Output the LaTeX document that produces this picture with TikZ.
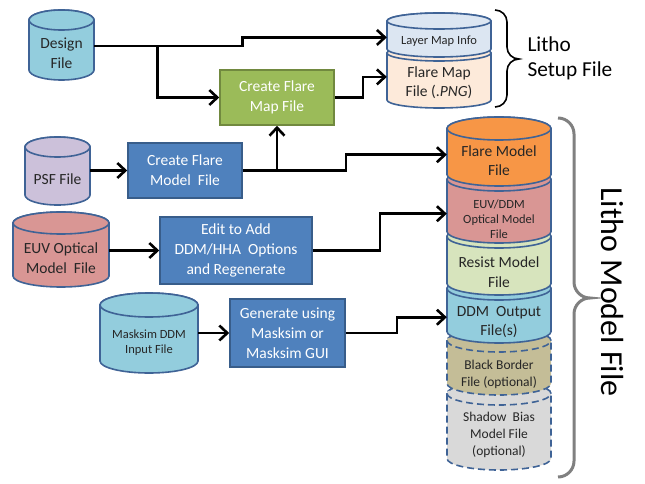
\documentclass[tikz,border=0pt]{standalone}
\usepackage{fontspec}
\setmainfont{Carlito}
\usetikzlibrary{arrows.meta, positioning}

\definecolor{boxblue}{HTML}{4F81BD}
\definecolor{boxline}{HTML}{385D8A}
\definecolor{boxgreen}{HTML}{9BBB59}
\definecolor{greenline}{HTML}{71893F}
\definecolor{cylline}{HTML}{3F6396}
\definecolor{cylblue}{HTML}{93CDDD}
\definecolor{cyllilac}{HTML}{CCC1DA}
\definecolor{cylred}{HTML}{D99694}
\definecolor{cylpale}{HTML}{DCE6F2}
\definecolor{cylpeach}{HTML}{FDEADA}
\definecolor{cylorange}{HTML}{F79646}
\definecolor{cylgreen}{HTML}{D7E4BD}
\definecolor{cyltan}{HTML}{C4BD97}
\definecolor{cylgray}{HTML}{D9D9D9}

% name, x centre, y of top ellipse, y of bottom ellipse, half width, ellipse height, look, text look, text
\newcommand{\datafile}[9]{%
  \path[filebody, #7] (#2-#5,#3) -- (#2-#5,#4)
      arc[start angle=180, end angle=360, x radius=#5pt, y radius=#6pt]
      -- (#2+#5,#3)
      arc[start angle=0, end angle=180, x radius=#5pt, y radius=#6pt] -- cycle;
  \path[filebody, #7] (#2,#3) ellipse[x radius=#5pt, y radius=#6pt];
  \node[filetext, #8, minimum width={2*#5*1pt}, minimum height={(#4-#3)*1pt}] (#1) at (#2,{(#3+#4)/2+0.8*#6}) {#9};
}

\begin{document}
\begin{tikzpicture}[x=1pt, y=-1pt,
    process/.style={rectangle, draw=boxline, line width=1.6pt, fill=boxblue, text=white, align=center, inner sep=0pt, font=\fontsize{15.5}{20}\selectfont},
    filebody/.style={draw=cylline, line width=1.6pt},
    optional/.style={dash pattern=on 7pt off 4pt},
    filetext/.style={inner sep=0pt, align=center, text=black!85, font=\fontsize{15.5}{19.5}\selectfont},
    smalltext/.style={font=\fontsize{12.5}{15}\selectfont},
    midtext/.style={font=\fontsize{13.5}{17}\selectfont},
    arrow/.style={-{Straight Barb[length=8pt, width=15pt]}, line width=2.6pt},
    setupbrace/.style={line width=1.6pt},
    modelbrace/.style={line width=3pt, draw=black!50}
]
    \useasboundingbox (0,0) rectangle (645,484);

    % input files
    \datafile{design}{61.5}{20}{70}{32.5}{10}{fill=cylblue}{}{Design\\File}
    \datafile{psf}{57.5}{147}{195}{32.5}{10}{fill=cyllilac}{}{PSF File}
    \datafile{euv}{61}{223}{276}{48}{11}{fill=cylred}{}{EUV Optical\\Model\ \ File}
    \datafile{masksim}{149}{305}{361}{49}{12}{fill=cylblue}{smalltext}{Masksim DDM\\Input File}

    % steps
    \node[process, fill=boxgreen, draw=greenline, minimum width=114pt, minimum height=55pt] (cfmap) at (277,97.5) {Create Flare\\Map File};
    \node[process, minimum width=114pt, minimum height=55pt] (cfmodel) at (185,170.5) {Create Flare\\Model\ \ File};
    \node[process, minimum width=152pt, minimum height=67pt] (edit) at (236,250.5) {Edit to Add\\DDM/HHA\ \ Options\\and Regenerate};
    \node[process, minimum width=115pt, minimum height=68pt] (gen) at (287.5,333) {Generate using\\Masksim or\\Masksim GUI};

    % litho setup file
    \datafile{flaremap}{439}{53}{100}{52}{8}{fill=cylpeach}{}{Flare Map\\File (.\textit{PNG})}
    \datafile{layermap}{439}{21}{49}{52}{8}{fill=cylpale}{smalltext}{Layer Map Info}

    % litho model file
    \datafile{shadow}{499}{393.5}{458.5}{52}{11.5}{fill=cylgray, optional}{midtext}{Shadow\ \ Bias\\Model File\\(optional)}
    \datafile{border}{499}{340.5}{383.5}{52}{11.5}{fill=cyltan, optional}{midtext, yshift=-3pt}{Black Border\\File (optional)}
    \datafile{ddmout}{499}{288.5}{331.5}{52}{11.5}{fill=cylblue}{yshift=-3pt}{DDM\ \ Output\\File(s)}
    \datafile{resist}{499}{236.5}{283.5}{52}{11.5}{fill=cylgreen}{yshift=-3pt}{Resist Model\\File}
    \datafile{euvddm}{499}{179.5}{231.5}{52}{11.5}{fill=cylred}{smalltext, yshift=-5pt}{EUV/DDM\\Optical Model\\File}
    \datafile{flaremodel}{499}{128.5}{174.5}{52}{11.5}{fill=cylorange}{}{Flare Model\\File}

    % connectors
    \draw[arrow] ([yshift=7pt]design.east) -- ++(148,0) |- ([yshift=4pt]layermap.west);
    \draw[arrow] ([xshift=63pt, yshift=7pt]design.east) |- (cfmap.west);
    \draw[arrow] (cfmap.east) -- ++(28,0) |- ([yshift=6pt]flaremap.west);
    \draw[arrow] (psf.east |- cfmodel.west) -- (cfmodel.west);
    \draw[arrow] (cfmodel.east) -- ++(103,0) |- ([yshift=6pt]flaremodel.west);
    \draw[arrow] (cfmodel.east -| cfmap.south) -- (cfmap.south);
    \draw[arrow] (euv.east |- edit.west) -- (edit.west);
    \draw[arrow] (edit.east) -- ++(67,0) |- ([yshift=6pt]euvddm.west);
    \draw[arrow] (masksim.east |- gen.west) -- (gen.west);
    \draw[arrow] (gen.east) -- ++(51,0) |- ([yshift=5pt]ddmout.west);

    % braces and labels
    \draw[setupbrace] (495,10) arc[start angle=90, end angle=0, radius=12pt] -- (507,47)
        arc[start angle=180, end angle=270, radius=12pt] arc[start angle=90, end angle=180, radius=12pt]
        -- (507,95) arc[start angle=0, end angle=-90, radius=12pt];
    \node[anchor=west, align=left, font=\fontsize{21.3}{25}\selectfont] (setuplabel) at (524,58) {Litho\\Setup File};

    \draw[modelbrace] (558,118) arc[start angle=90, end angle=0, radius=16pt] -- (574,282)
        arc[start angle=180, end angle=270, radius=16pt] arc[start angle=90, end angle=180, radius=16pt]
        -- (574,461) arc[start angle=0, end angle=-90, radius=16pt];
    \node[rotate=-90, font=\fontsize{32}{38}\selectfont] (modellabel) at (612,292) {Litho Model File};
\end{tikzpicture}
\end{document}
